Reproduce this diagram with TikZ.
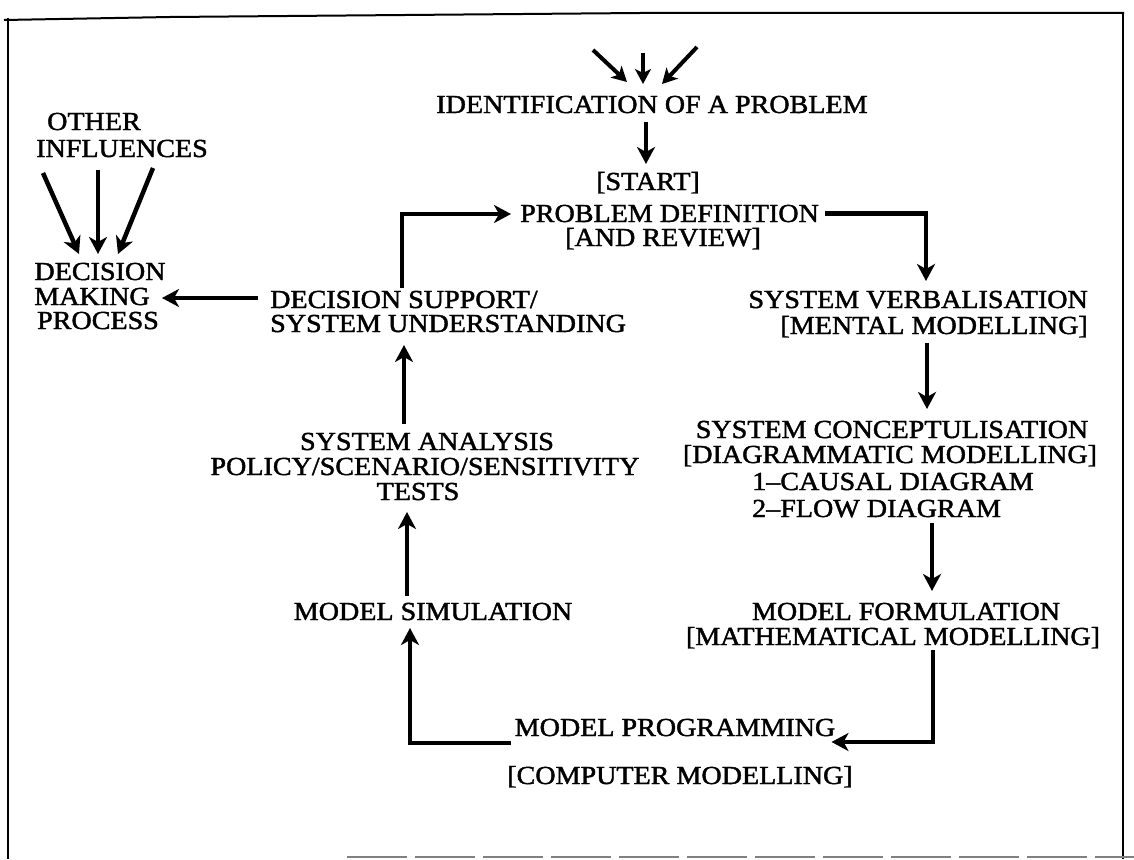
\documentclass[tikz,border=0pt]{standalone}
\usepackage{fontspec}
\newfontfamily\diafont{Liberation Serif}[FakeBold=1.6,FakeStretch=1.08]
\usetikzlibrary{arrows.meta}
\tikzset{
  txt/.style={inner sep=0pt, font=\diafont\fontsize{26}{26}\selectfont},
  arr/.style={line width=4.5pt, -{Stealth[length=17pt,width=18pt,inset=5pt]}},
  thinarr/.style={line width=4pt, -{Stealth[length=15pt,width=16pt,inset=4pt]}},
  frame/.style={line width=2pt}
}
\begin{document}
\begin{tikzpicture}[x=1pt,y=-1pt]
\useasboundingbox (0,0) rectangle (1134,859);
\fill[white] (0,0) rectangle (1134,859);
% frame
\draw[frame] (4,20) -- (170,17) -- (640,13) -- (1124,13);
\draw[frame] (8,18) -- (8,859);
\draw[frame] (1123,14) -- (1123,859);
\draw[gray, line width=2pt, dash pattern=on 60pt off 8pt] (347,857) -- (1134,857);

% texts
\node[txt,anchor=base] (id) at (652,113) {IDENTIFICATION OF A PROBLEM};
\node[txt,anchor=base] (start) at (648,190) {[START]};
\node[txt,anchor=base west] (pd1) at (520,222) {PROBLEM DEFINITION};
\node[txt,anchor=base west] (pd2) at (565,246) {[AND REVIEW]};
\node[txt,anchor=base east] (sv1) at (1088,308) {SYSTEM VERBALISATION};
\node[txt,anchor=base east] (sv2) at (1088,334) {[MENTAL MODELLING]};
\node[txt,anchor=base] (sc1) at (892,438) {SYSTEM CONCEPTULISATION};
\node[txt,anchor=base] (sc2) at (890,463) {[DIAGRAMMATIC MODELLING]};
\node[txt,anchor=base west] (sc3) at (752,490) {1–CAUSAL DIAGRAM};
\node[txt,anchor=base west] (sc4) at (752,517) {2–FLOW DIAGRAM};
\node[txt,anchor=base] (mf1) at (906,620) {MODEL FORMULATION};
\node[txt,anchor=base] (mf2) at (893,645) {[MATHEMATICAL MODELLING]};
\node[txt,anchor=base] (mp1) at (675,736) {MODEL PROGRAMMING};
\node[txt,anchor=base] (mp2) at (680,784) {[COMPUTER MODELLING]};
\node[txt,anchor=base] (ms) at (433,620) {MODEL SIMULATION};
\node[txt,anchor=base] (sa1) at (427,450) {SYSTEM ANALYSIS};
\node[txt,anchor=base] (sa2) at (425,475) {POLICY/SCENARIO/SENSITIVITY};
\node[txt,anchor=base] (sa3) at (418,500) {TESTS};
\node[txt,anchor=base west] (ds1) at (270,308) {DECISION SUPPORT/};
\node[txt,anchor=base west] (ds2) at (270,332) {SYSTEM UNDERSTANDING};
\node[txt,anchor=base] (oi1) at (94,130) {OTHER};
\node[txt,anchor=base] (oi2) at (122,157) {INFLUENCES};
\node[txt,anchor=base] (dm1) at (100,280) {DECISION};
\node[txt,anchor=base] (dm2) at (92,305) {MAKING};
\node[txt,anchor=base] (dm3) at (98,329) {PROCESS};

% coordinates
\coordinate (t1a) at (593,50);  \coordinate (t1b) at (627,82);
\coordinate (t2a) at (643,53);  \coordinate (t2b) at (643,84);
\coordinate (t3a) at (697,47);  \coordinate (t3b) at (662,84);
\coordinate (idb) at (646,122); \coordinate (stt) at (646,164);
\coordinate (svt) at (926,281);
\coordinate (svb) at (927,343); \coordinate (sct) at (927,409);
\coordinate (scb) at (932,523); \coordinate (mft) at (932,591);
\coordinate (mfb) at (933,650); \coordinate (mpc) at (933,742);
\coordinate (mpl) at (511,743); \coordinate (msb) at (410,628);
\coordinate (msa) at (407,596); \coordinate (sab) at (407,512);
\coordinate (sat) at (404,424); \coordinate (dsb) at (404,345);
\coordinate (dst) at (402,288); \coordinate (pdl) at (511,214);
\coordinate (dsl) at (258,298); \coordinate (dmr) at (162,298);
\coordinate (o1a) at (43,173);  \coordinate (o1b) at (79,254);
\coordinate (o2a) at (98,170);  \coordinate (o2b) at (98,254);
\coordinate (o3a) at (153,168); \coordinate (o3b) at (118,254);

% connectors
\draw[thinarr] (t1a) -- (t1b);
\draw[thinarr] (t2a) -- (t2b);
\draw[thinarr] (t3a) -- (t3b);
\draw[arr] (idb) -- (stt);
\draw[arr] ([xshift=6pt]pd1.east) -| (svt);
\draw[arr] (svb) -- (sct);
\draw[arr] (scb) -- (mft);
\draw[arr] (mfb) -- (mpc) -- ([xshift=-4pt]mp1.east |- mpc);
\draw[arr] (mpl) -| (msb);
\draw[arr] (msa) -- (sab);
\draw[arr] (sat) -- (dsb);
\draw[arr] (dst) |- (pdl);
\draw[arr] (dsl) -- (dmr);
\draw[arr] (o1a) -- (o1b);
\draw[arr] (o2a) -- (o2b);
\draw[arr] (o3a) -- (o3b);
\end{tikzpicture}
\end{document}
